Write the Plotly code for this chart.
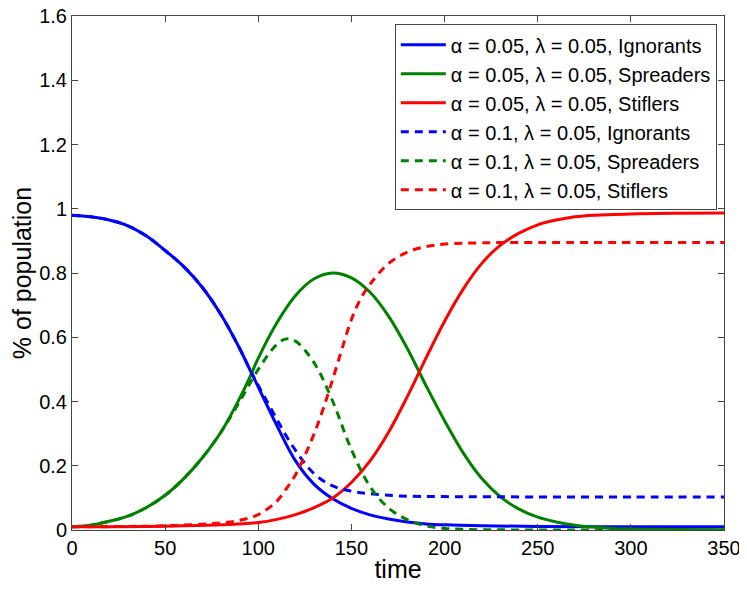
import plotly.graph_objects as go

# values
t_ign1 = [0, 10, 20, 30, 40, 50, 60, 70, 80, 90, 95, 100, 110, 120, 130, 140, 150, 160, 170, 180, 190, 200, 220, 250, 300, 350]
ign1 = [0.98, 0.975, 0.965, 0.947, 0.915, 0.87, 0.82, 0.755, 0.67, 0.565, 0.505, 0.445, 0.325, 0.215, 0.142, 0.097, 0.067, 0.047, 0.034, 0.025, 0.019, 0.016, 0.013, 0.011, 0.01, 0.01]

t_spr1 = [0, 10, 20, 30, 40, 50, 60, 70, 80, 90, 95, 100, 110, 120, 130, 140, 150, 160, 170, 180, 190, 200, 210, 220, 230, 240, 250, 260, 270, 280, 290, 300, 350]
spr1 = [0.01, 0.015, 0.027, 0.043, 0.07, 0.108, 0.16, 0.225, 0.305, 0.41, 0.47, 0.535, 0.645, 0.73, 0.782, 0.80, 0.785, 0.74, 0.665, 0.565, 0.45, 0.34, 0.24, 0.16, 0.103, 0.065, 0.04, 0.025, 0.015, 0.009, 0.005, 0.003, 0.001]

t_sti1 = [0, 50, 80, 100, 110, 120, 130, 140, 150, 160, 170, 180, 190, 200, 210, 220, 230, 240, 250, 260, 270, 280, 300, 325, 350]
sti1 = [0.01, 0.012, 0.016, 0.023, 0.033, 0.048, 0.07, 0.10, 0.148, 0.215, 0.305, 0.415, 0.535, 0.65, 0.75, 0.83, 0.887, 0.924, 0.95, 0.965, 0.975, 0.98, 0.984, 0.986, 0.987]

t_ign2 = [0, 10, 20, 30, 40, 50, 60, 70, 80, 90, 95, 100, 108, 118, 130, 140, 150, 160, 176, 200, 250, 300, 350]
ign2 = [0.98, 0.975, 0.965, 0.947, 0.915, 0.87, 0.82, 0.755, 0.67, 0.565, 0.505, 0.45, 0.365, 0.265, 0.175, 0.137, 0.121, 0.113, 0.106, 0.104, 0.103, 0.103, 0.103]

t_spr2 = [0, 10, 20, 30, 40, 50, 60, 70, 80, 90, 100, 110, 115, 120, 130, 140, 150, 160, 170, 180, 190, 200, 210, 250, 350]
spr2 = [0.01, 0.015, 0.027, 0.043, 0.07, 0.108, 0.16, 0.225, 0.305, 0.40, 0.50, 0.578, 0.595, 0.588, 0.52, 0.40, 0.25, 0.135, 0.068, 0.032, 0.013, 0.005, 0.002, 0.0, 0.0]

t_sti2 = [0, 30, 50, 70, 80, 90, 100, 110, 115, 120, 125, 130, 135, 140, 145, 150, 155, 160, 170, 180, 190, 200, 220, 250, 350]
sti2 = [0.01, 0.011, 0.013, 0.018, 0.022, 0.03, 0.048, 0.09, 0.128, 0.172, 0.232, 0.30, 0.38, 0.47, 0.565, 0.655, 0.72, 0.765, 0.83, 0.865, 0.882, 0.89, 0.894, 0.895, 0.895]

names = [
    "α = 0.05, λ = 0.05, Ignorants",
    "α = 0.05, λ = 0.05, Spreaders",
    "α = 0.05, λ = 0.05, Stiflers",
    "α = 0.1, λ = 0.05, Ignorants",
    "α = 0.1, λ = 0.05, Spreaders",
    "α = 0.1, λ = 0.05, Stiflers",
]

series = [(t_ign1, ign1), (t_spr1, spr1), (t_sti1, sti1),
          (t_ign2, ign2), (t_spr2, spr2), (t_sti2, sti2)]
colors = ["#0000ff", "#008000", "#ff0000"] * 2
dashes = ["solid"] * 3 + ["8px,6px"] * 3

fig = go.Figure()
for (x, y), name, c, d in zip(series, names, colors, dashes):
    fig.add_trace(go.Scatter(x=x, y=y, mode="lines", name=name,
                             line=dict(color=c, width=3, dash=d, shape="spline", smoothing=1)))

axis_style = dict(showline=True, linecolor="#444", linewidth=1, mirror="ticks",
                  ticks="inside", ticklen=6, tickcolor="#444", showgrid=False,
                  zeroline=False, automargin=False, ticklabeloverflow="allow",
                  tickfont=dict(size=20, color="black"))

# page body has an 8px margin, so the figure is shifted; margins compensate
fig.update_layout(
    width=747, height=590,
    margin=dict(l=64, r=31, t=8, b=68),
    paper_bgcolor="white", plot_bgcolor="white",
    font=dict(family="Liberation Sans, Arial, sans-serif", color="black"),
    legend=dict(x=0.989, y=0.984, xanchor="right", yanchor="top",
                bgcolor="white", bordercolor="#444", borderwidth=1,
                font=dict(size=20), tracegroupgap=0, itemwidth=45),
    xaxis=dict(range=[0, 350], dtick=50, title=dict(text="time", font=dict(size=25), standoff=2), **axis_style),
    yaxis=dict(range=[0, 1.6], dtick=0.2, title=dict(text="% of population", font=dict(size=25), standoff=6), **axis_style),
)

fig.write_html("out.html")
